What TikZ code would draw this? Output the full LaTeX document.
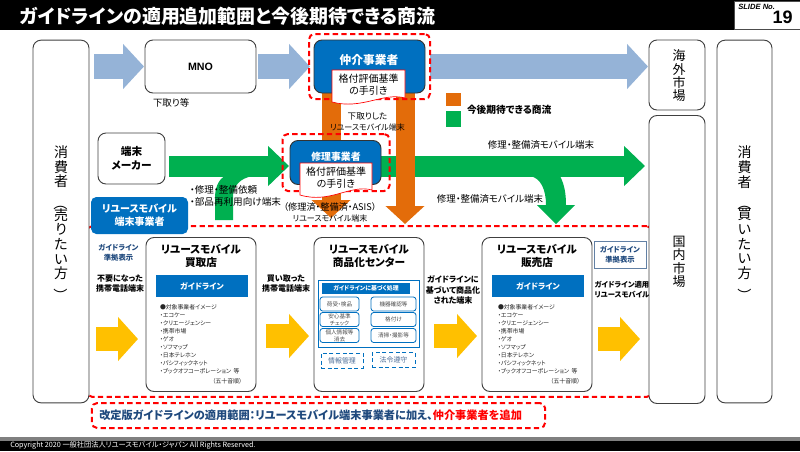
\documentclass[tikz,border=0pt]{standalone}
\usepackage{fontspec}
\setmainfont[RawFeature=+palt]{Noto Sans CJK JP}
\newfontfamily\latinfont{Liberation Sans}
\usetikzlibrary{arrows.meta,backgrounds,calc}

\definecolor{rmblue}{HTML}{0070C0}
\definecolor{rmslate}{HTML}{95B3D7}
\definecolor{rmorange}{HTML}{E36C0A}
\definecolor{rmgreen}{HTML}{00B050}
\definecolor{rmyellow}{HTML}{FFC000}
\definecolor{rmnavy}{HTML}{1F497D}
\definecolor{rmred}{HTML}{FF0000}

\def\fsz#1#2{\fontsize{#1pt}{#2pt}\selectfont}
\def\shoplist{%
  ●対象事業者イメージ\\
  ・エコケー\\
  ・クリエージェンシー\\
  ・携帯市場\\
  ・ゲオ\\
  ・ソフマップ\\
  ・日本テレホン\\
  ・パシフィックネット\\
  ・ブックオフコーポレーション\ \ 等}
\def\vparo{\rotatebox{-90}{（}}
\def\vparc{\rotatebox{-90}{）}}

\begin{document}
\begin{tikzpicture}[x=0.75pt,y=-0.75pt]
  \tikzstyle{box}=[draw=black!75, fill=white, rounded corners=6pt, line width=0.7pt, inner sep=0pt, outer sep=0pt, align=center]
  \tikzstyle{bluebox}=[draw=black!80, fill=rmblue, text=white, rounded corners=6pt, line width=0.7pt, inner sep=0pt, outer sep=0pt, align=center]
  \tikzstyle{band}=[fill=rmblue, text=white, inner sep=0pt, outer sep=0pt, align=center]
  \tikzstyle{redzone}=[draw=rmred, line width=1.5pt, dash pattern=on 4pt off 2.5pt, rounded corners=4pt, inner sep=0pt, outer sep=0pt]
  \tikzstyle{doc}=[draw=rmred, fill=white, line width=0.5pt]
  \tikzstyle{lab}=[inner sep=0pt, outer sep=0pt, align=center, font=\fsz{7.1}{8.3}]
  \tikzstyle{boldlab}=[inner sep=0pt, outer sep=0pt, align=center, font=\fsz{6}{7.6}\bfseries]
  \tikzstyle{vert}=[inner sep=0pt, outer sep=0pt, align=center, font=\fsz{10.5}{11}]
  \tikzstyle{vertm}=[inner sep=0pt, outer sep=0pt, align=center, font=\fsz{9.75}{10}]
  \tikzstyle{head}=[inner sep=0pt, outer sep=0pt, align=center, font=\fsz{8}{10.4}\bfseries]
  \tikzstyle{list}=[inner sep=0pt, outer sep=0pt, align=left, anchor=north west, font=\fsz{4.4}{6}, text=black!85]
  \tikzstyle{task}=[draw=rmblue, fill=white, rounded corners=2pt, line width=0.6pt, inner sep=0pt, outer sep=0pt, align=center, font=\fsz{4.2}{5.4}, text=black!70]
  \tikzstyle{rule}=[draw=rmblue, fill=white, densely dashed, line width=0.5pt, inner sep=0pt, outer sep=0pt, font=\fsz{5.2}{6.5}, text=rmnavy!80]
  \tikzstyle{slateflow}=[draw=rmslate, line width=18.75pt, -{Triangle[length=15.75pt,width=33pt]}]
  \tikzstyle{greenflow}=[draw=rmgreen, line width=15.75pt, -{Triangle[length=15.75pt,width=29.25pt]}]
  \tikzstyle{orangeflow}=[draw=rmorange, line width=14.25pt, -{Triangle[length=13.5pt,width=28.5pt]}]
  \tikzstyle{yellowflow}=[draw=rmyellow, line width=18pt, -{Triangle[length=15pt,width=32.25pt]}]

  \path [use as bounding box] (0,0) rectangle (800,451);

  % header and footer
  \fill [black] (0,0) rectangle (800,30);
  \node [fill=white, draw=black!70, inner sep=0pt, outer sep=0pt, minimum width=49.5pt, minimum height=21pt] (slidebox) at (767,15) {};
  \node [inner sep=0pt, text=white, anchor=west, font=\fsz{14.2}{15}\bfseries] (title) at (20,16) {ガイドラインの適用追加範囲と今後期待できる商流};
  \node [inner sep=0pt, anchor=west, font=\latinfont\fsz{5.7}{6}\bfseries\itshape] (slideno) at (738,7) {SLIDE No.};
  \node [inner sep=0pt, anchor=east, font=\latinfont\fsz{13.5}{14}\bfseries] (slidenum) at (793,17) {19};
  \fill [black!50] (0,437) rectangle (800,441);
  \fill [black] (0,441) rectangle (800,451);
  \node [inner sep=0pt, anchor=west, text=white, font=\fsz{5.4}{6}] (copy) at (10,445) {Copyright 2020 一般社団法人リユースモバイル・ジャパン All Rights Reserved.};

  % red zones
  \node [redzone, minimum width=424pt, minimum height=128pt] (zone) at (369.5,311.5) {};
  \node [redzone, minimum width=340pt, minimum height=18.75pt] (notezone) at (318.5,415.5) {};

  % outer columns
  \node [box, minimum width=42pt, minimum height=272pt] (consL) at (61,221.5) {};
  \node [box, minimum width=41.25pt, minimum height=272pt] (consR) at (744.5,221.5) {};
  \node [box, minimum width=42pt, minimum height=52.5pt] (oversea) at (677,75) {};
  \node [box, minimum width=42pt, minimum height=216pt] (domestic) at (677,259.5) {};
  \node [vert] (consLt) at (61,221) {消\\費\\者\\[1pt]\vparo\\[-2pt]売\\り\\た\\い\\方\\[-3pt]\vparc};
  \node [vert] (consRt) at (744.5,221) {消\\費\\者\\[1pt]\vparo\\[-2pt]買\\い\\た\\い\\方\\[-3pt]\vparc};
  \node [vertm] (overseat) at (679,76) {海\\外\\市\\場};
  \node [vertm] (domestict) at (679,262) {国\\内\\市\\場};

  % upper row
  \node [box, minimum width=83.25pt, minimum height=39.75pt, font=\latinfont\fsz{8}{9}\bfseries] (MNO) at (200.5,66.5) {MNO};
  \node [bluebox, minimum width=83.25pt, minimum height=39.75pt] (broker) at (369.5,66.5) {};
  \node [box, minimum width=50.25pt, minimum height=38.25pt, font=\fsz{8}{10.5}\bfseries] (maker) at (131.5,158.5) {端末\\メーカー};
  \node [bluebox, minimum width=68.25pt, minimum height=33pt] (repair) at (335.5,162.5) {};
  \node [redzone, minimum width=90.75pt, minimum height=48.75pt] (brokerzone) at (369.5,66.5) {};
  \node [redzone, minimum width=80.25pt, minimum height=42.75pt] (repairzone) at (336,162.5) {};
  \coordinate (greenline) at (0,166);
  \coordinate (tipL) at (331,218);
  \coordinate (tipR) at (405,224);

  \begin{scope}[on background layer]
    \fill [rmgreen] (225,176) .. controls (218,180) and (215,188) .. (215,198) -- (215,220)
      -- (233,220) -- (233,197) .. controls (233,186) and (240,178) .. (253,176) -- cycle;
    \fill [rmgreen] (530,176) .. controls (541,178) and (546,190) .. (546,205) -- (537,205)
      -- (556,224) -- (575,205) -- (566,205) .. controls (566,192) and (564,184) .. (560,176) -- cycle;
    \draw [greenflow, shorten <=3pt, shorten >=0.75pt] (maker.east |- greenline) -- (repair.west |- greenline);
    \draw [greenflow, shorten >=3pt] (repair.east |- greenline) -- (domestic.west |- greenline);
    \draw [orangeflow] (tipL |- broker.south) -- (tipL);
    \draw [orangeflow] (tipR |- broker.south) -- (tipR);
    \draw [slateflow, shorten <=3.75pt, shorten >=0.75pt] (consL.east |- MNO) -- (MNO.west);
    \draw [slateflow, shorten <=1.5pt, shorten >=3pt] (MNO.east) -- (broker.west);
    \draw [slateflow, shorten <=3.75pt, shorten >=0.75pt] (broker.east) -- (oversea.west |- broker);
  \end{scope}

  \node [inner sep=0pt, text=white, font=\fsz{8.8}{9}\bfseries] (brokert) at (369,60) {仲介事業者};
  \node [inner sep=0pt, text=white, font=\fsz{7.4}{8}\bfseries] (repairt) at (336,157) {修理事業者};
  \draw [doc] (332,70) -- (405,70) -- (405,98) .. controls (383,92) and (362,110) .. (332,102) -- cycle;
  \draw [doc] (300,163) -- (372,163) -- (372,190) .. controls (350,184) and (330,204) .. (300,195) -- cycle;
  \node [lab, font=\fsz{7.5}{8.8}] (brokerdoc) at (368.5,85) {格付評価基準\\の手引き};
  \node [lab, font=\fsz{7.5}{8.8}] (repairdoc) at (336,178) {格付評価基準\\の手引き};

  \node [lab, anchor=west] (tradein) at (153,102.5) {下取り等};
  \node [lab] (usedmobile) at (367.5,121.5) {{\fsz{6.4}{8.3}下取りした}\\{\fsz{6}{8.3}リユースモバイル端末}};
  \node [lab, anchor=west, align=left, font=\fsz{7.2}{9}] (repairreq) at (190,196) {・修理・整備依頼\\・部品再利用向け端末};
  \node [lab] (asis) at (330,212.5) {{\fsz{6.9}{8.3}（修理済・整備済・ASIS）}\\{\fsz{6}{8.3}リユースモバイル端末}};
  \node [lab] (greentop) at (541,145) {修理・整備済モバイル端末};
  \node [lab] (greenlow) at (490,199) {修理・整備済モバイル端末};

  % legend
  \node [fill=rmorange, inner sep=0pt, outer sep=0pt, minimum width=11.25pt, minimum height=9.75pt] (legendO) at (453.5,99.5) {};
  \node [fill=rmgreen, inner sep=0pt, outer sep=0pt, minimum width=11.25pt, minimum height=12pt] (legendG) at (453.5,119) {};
  \node [boldlab, anchor=west, font=\fsz{7.3}{8}\bfseries] (legendt) at (467,110) {今後期待できる商流};

  % operators
  \node [fill=rmblue, text=white, rounded corners=4pt, inner sep=0pt, outer sep=0pt, align=center, minimum width=72.75pt, minimum height=27.75pt, font=\fsz{7.5}{9.5}\bfseries] (operator) at (139.5,215.5) {リユースモバイル\\端末事業者};
  \node [box, minimum width=82.5pt, minimum height=115.5pt] (buyshop) at (201,314.5) {};
  \node [box, minimum width=82.5pt, minimum height=115.5pt] (center) at (369,314.5) {};
  \node [box, minimum width=82.5pt, minimum height=115.5pt] (sellshop) at (537,314.5) {};
  \node [head] (buyt) at (201,256) {リユースモバイル\\買取店};
  \node [head] (centert) at (369,256) {リユースモバイル\\商品化センター};
  \node [head] (sellt) at (537,256) {リユースモバイル\\販売店};
  \node [band, minimum width=69pt, minimum height=16.5pt, font=\fsz{6}{7}\bfseries] (buyband) at (202,286) {ガイドライン};
  \node [band, minimum width=69pt, minimum height=16.5pt, font=\fsz{6}{7}\bfseries] (sellband) at (538,286) {ガイドライン};
  \node [list] (buylist) at (160,304.5) {\shoplist};
  \node [list] (selllist) at (498,304.5) {\shoplist};
  \node [list, anchor=east] (buyend) at (242,381) {（五十音順）};
  \node [list, anchor=east] (sellend) at (580,381) {（五十音順）};

  % center details
  \node [draw=rmblue, fill=white, line width=0.7pt, inner sep=0pt, outer sep=0pt, minimum width=75.75pt, minimum height=50.25pt] (work) at (368.5,313.5) {};
  \node [band, minimum width=66pt, minimum height=8.25pt, font=\fsz{4.4}{5}\bfseries] (workband) at (366,288.5) {ガイドラインに基づく処理};
  \node [task, minimum width=29.25pt, minimum height=10.5pt] (task1) at (339.5,304) {荷受・検品};
  \node [task, minimum width=33.75pt, minimum height=10.5pt] (task2) at (393.5,304) {機器確認等};
  \node [task, minimum width=29.25pt, minimum height=10.5pt] (task3) at (339.5,319.5) {安心基準\\チェック};
  \node [task, minimum width=33.75pt, minimum height=10.5pt] (task4) at (393.5,319.5) {格付け};
  \node [task, minimum width=29.25pt, minimum height=10.5pt] (task5) at (339.5,335.5) {個人情報等\\消去};
  \node [task, minimum width=33.75pt, minimum height=10.5pt] (task6) at (393.5,335.5) {清掃・撮影等};
  \node [rule, minimum width=31.5pt, minimum height=11.25pt] (rule1) at (342,360.5) {情報管理};
  \node [rule, minimum width=32.25pt, minimum height=11.25pt] (rule2) at (393.5,360) {法令遵守};

  % captions and yellow arrows
  \node [boldlab, text=rmnavy, font=\fsz{5.5}{7.6}\bfseries] (markL) at (118.5,253) {ガイドライン\\準拠表示};
  \node [draw=rmnavy!70, fill=white, text=rmnavy, inner sep=0pt, outer sep=0pt, align=center, minimum width=39pt, minimum height=20.25pt, font=\fsz{5.5}{7.6}\bfseries] (markR) at (620,254.5) {ガイドライン\\準拠表示};
  \node [boldlab] (capA) at (120,284) {不要になった\\携帯電話端末};
  \node [boldlab] (capB) at (286,284) {買い取った\\携帯電話端末};
  \node [boldlab] (capC) at (453,290) {ガイドラインに\\基づいて商品化\\された端末};
  \node [boldlab, font=\fsz{5.5}{7.6}\bfseries] (capD) at (622,290) {ガイドライン適用\\リユースモバイル};
  \coordinate (yellowA) at (96,339);
  \coordinate (yellowB) at (0,336);
  \coordinate (tipD) at (640,339);
  \draw [yellowflow, shorten >=6pt] (yellowA) -- (buyshop.west |- yellowA);
  \draw [yellowflow, shorten <=7.5pt, shorten >=3.75pt] (buyshop.east |- yellowB) -- (center.west |- yellowB);
  \draw [yellowflow, shorten <=7.5pt, shorten >=3.75pt] (center.east |- yellowB) -- (sellshop.west |- yellowB);
  \draw [yellowflow, shorten <=4.5pt] (sellshop.east |- tipD) -- (tipD);

  % note
  \node [inner sep=0pt, anchor=west, text=rmnavy, font=\fsz{8.4}{9}\bfseries] (note) at (99,415.5) {改定版ガイドラインの適用範囲：リユースモバイル端末事業者に加え、\textcolor{rmred}{仲介事業者を追加}};
\end{tikzpicture}
\end{document}
